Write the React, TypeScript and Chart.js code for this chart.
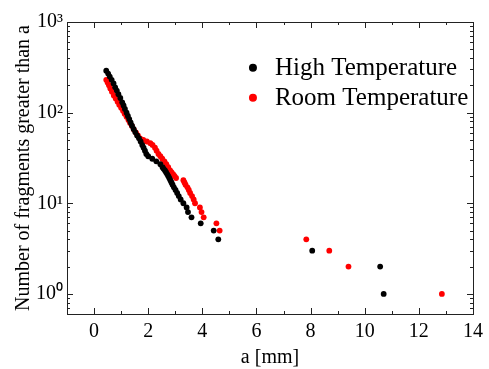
import React, { useEffect, useRef } from "react";
import { Chart, registerables } from "chart.js";

Chart.register(...registerables);

// ---- data ----
const seriesLabels = ["High Temperature", "Room Temperature"];
const seriesColors = ["#000000", "#ff0000"];

// High temperature: fragment size a [mm] and count greater than a
const highA = [
  0.45, 0.52, 0.58, 0.65, 0.72, 0.78, 0.84, 0.9, 0.97, 1.04, 1.09, 1.14, 1.2,
  1.25, 1.3, 1.35, 1.4, 1.46, 1.52, 1.59, 1.66, 1.72, 1.78, 1.83, 1.88, 1.93,
  2.0, 2.15, 2.3, 2.45, 2.53, 2.57, 2.62, 2.66, 2.7, 2.74, 2.78, 2.82, 2.86,
  2.9, 2.95, 3.01, 3.07, 3.13, 3.2, 3.3, 3.42, 3.47, 3.6, 3.94, 4.42, 4.59,
  8.06, 10.57, 10.7,
];
const highN = [
  290, 270, 250, 230, 210, 190, 175, 160, 145, 130, 120, 110, 100, 92, 85, 78,
  72, 66, 61, 56, 52, 48, 44, 41, 38, 35, 33, 31, 29, 27, 25, 24, 23, 22, 21,
  20, 19, 18, 17, 16, 15, 14, 13, 12, 11, 10, 9, 8, 7, 6, 5, 4, 3, 2, 1,
];

// Room temperature
const roomA = [
  0.45, 0.5, 0.55, 0.6, 0.66, 0.73, 0.8, 0.87, 0.93, 1.0, 1.07, 1.13, 1.2,
  1.27, 1.33, 1.4, 1.47, 1.55, 1.62, 1.7, 1.82, 1.95, 2.08, 2.16, 2.25, 2.31,
  2.38, 2.45, 2.52, 2.6, 2.67, 2.74, 2.81, 2.86, 2.92, 2.97, 3.03, 3.3, 3.34,
  3.38, 3.45, 3.5, 3.55, 3.62, 3.68, 3.73, 3.91, 3.97, 4.05, 4.52, 4.64, 7.84,
  8.69, 9.4, 12.85,
];
const roomN = [
  230, 215, 200, 185, 170, 155, 143, 132, 122, 113, 105, 97, 90, 83, 77, 71,
  65, 60, 56, 52, 50, 48, 46, 44, 41, 38, 35, 33, 31, 29, 27, 25, 23, 22, 21,
  20, 19, 18, 17, 16, 15, 14, 13, 12, 11, 10, 9, 8, 7, 6, 5, 4, 3, 2, 1,
];

const xTicks = [0, 2, 4, 6, 8, 10, 12, 14];
const yTicks = [1, 10, 100, 1000];
const yTickLabels = ["10\u2070", "10\u00b9", "10\u00b2", "10\u00b3"];
const xTitle = "a [mm]";
const yTitle = "Number of fragments greater than a";

const FONT = "'Liberation Serif', 'Times New Roman', serif";

const framePlugin = {
  id: "frameAndLegend",
  afterDatasetsDraw(chart: any) {
    const { ctx, chartArea: a, scales } = chart;
    const xs = scales.x;
    const ys = scales.y;
    ctx.save();
    ctx.strokeStyle = "#222";
    ctx.lineWidth = 1;
    ctx.strokeRect(
      Math.round(a.left) + 0.5,
      Math.round(a.top) + 0.5,
      Math.round(a.right - a.left),
      Math.round(a.bottom - a.top)
    );
    ctx.beginPath();
    // x ticks, inward on bottom and top
    for (const v of xTicks) {
      const px = Math.round(xs.getPixelForValue(v)) + 0.5;
      ctx.moveTo(px, a.bottom);
      ctx.lineTo(px, a.bottom - 6);
      ctx.moveTo(px, a.top);
      ctx.lineTo(px, a.top + 6);
    }
    for (let v = -1; v <= 14; v += 1) {
      if (xTicks.indexOf(v) >= 0) continue;
      const px = Math.round(xs.getPixelForValue(v)) + 0.5;
      ctx.moveTo(px, a.bottom);
      ctx.lineTo(px, a.bottom - 3);
      ctx.moveTo(px, a.top);
      ctx.lineTo(px, a.top + 3);
    }
    // y ticks (major + minor), inward on left and right
    for (const d of [0.1, 1, 10, 100]) {
      for (let m = 1; m <= 10; m++) {
        const v = d * m;
        if (v < ys.min || v > ys.max) continue;
        const major = m === 1 || m === 10;
        const len = major ? 6 : 3;
        const py = Math.round(ys.getPixelForValue(v)) + 0.5;
        ctx.moveTo(a.left, py);
        ctx.lineTo(a.left + len, py);
        ctx.moveTo(a.right, py);
        ctx.lineTo(a.right - len, py);
      }
    }
    ctx.stroke();

    // legend inside plot area
    const lx = a.left + (a.right - a.left) * 0.458;
    const ly = a.top + (a.bottom - a.top) * 0.157;
    const gap = 30;
    ctx.font = `25px ${FONT}`;
    ctx.textBaseline = "middle";
    ctx.textAlign = "left";
    chart.data.datasets.forEach((ds: any, i: number) => {
      const y = ly + i * gap;
      ctx.fillStyle = ds.backgroundColor;
      ctx.beginPath();
      ctx.arc(lx, y, 4, 0, Math.PI * 2);
      ctx.fill();
      ctx.fillStyle = "#000";
      ctx.fillText(ds.label, lx + 22, y + 1);
    });
    ctx.restore();
  },
};

export default function App() {
  const ref = useRef<HTMLCanvasElement | null>(null);
  useEffect(() => {
    if (!ref.current) return;
    const chart = new Chart(ref.current, {
      type: "scatter",
      data: {
        datasets: [
          {
            label: seriesLabels[0],
            data: highA.map((x, i) => ({ x, y: highN[i] })),
            backgroundColor: seriesColors[0],
            borderColor: seriesColors[0],
            pointRadius: 2.9,
            borderWidth: 0,
          },
          {
            label: seriesLabels[1],
            data: roomA.map((x, i) => ({ x, y: roomN[i] })),
            backgroundColor: seriesColors[1],
            borderColor: seriesColors[1],
            pointRadius: 2.9,
            borderWidth: 0,
          },
        ],
      },
      options: {
        animation: false,
        responsive: false,
        devicePixelRatio: 1,
        layout: { padding: { top: 22, right: 10, left: 0, bottom: 0 } },
        plugins: {
          legend: { display: false },
          tooltip: { enabled: false },
        },
        scales: {
          x: {
            type: "linear",
            min: -1,
            max: 14,
            afterBuildTicks: (s: any) => {
              s.ticks = xTicks.map((v) => ({ value: v }));
            },
            afterFit: (s: any) => {
              s.height = 55;
            },
            grid: { display: false, drawTicks: false },
            border: { display: false },
            ticks: {
              color: "#000",
              font: { family: FONT, size: 20 },
              padding: 6,
              maxRotation: 0,
            },
            title: {
              display: true,
              text: xTitle,
              color: "#000",
              font: { family: FONT, size: 20 },
              padding: { top: 0, bottom: -1 },
            },
          },
          y: {
            type: "logarithmic",
            min: 0.6,
            max: 1000,
            afterBuildTicks: (s: any) => {
              s.ticks = yTicks.map((v) => ({ value: v }));
            },
            afterFit: (s: any) => {
              s.width = 67;
            },
            grid: { display: false, drawTicks: false },
            border: { display: false },
            ticks: {
              color: "#000",
              font: { family: FONT, size: 20 },
              padding: 4,
              callback: (v: any) => {
                const i = yTicks.indexOf(Number(v));
                return i >= 0 ? yTickLabels[i] : "";
              },
            },
            title: {
              display: true,
              text: yTitle,
              color: "#000",
              font: { family: FONT, size: 20 },
              padding: { top: 12, bottom: 0 },
            },
          },
        },
      },
      plugins: [framePlugin],
    });
    return () => chart.destroy();
  }, []);
  return (
    <div
      style={{
        position: "fixed",
        left: 0,
        top: 0,
        width: 489,
        height: 369,
        background: "#fff",
      }}
    >
      <canvas ref={ref} width={489} height={369} style={{ display: "block" }} />
    </div>
  );
}
